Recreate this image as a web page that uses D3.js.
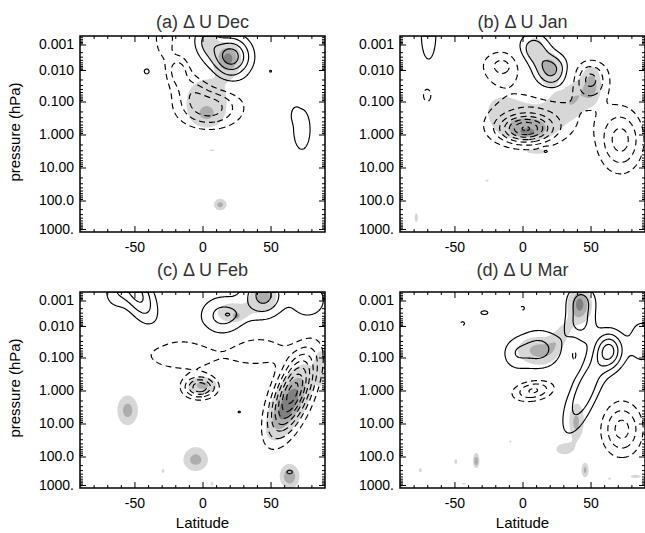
<!DOCTYPE html>
<html>
<head>
<meta charset="utf-8">
<script src="https://cdn.jsdelivr.net/npm/d3@7"></script>
<style>
body { margin: 0; background: #fff; }
text { font-family: "Liberation Sans", Arial, Helvetica, sans-serif; }
</style>
</head>
<body>
<script>
// panel titles and axis labels
var titles = ["(a) \u0394 U Dec", "(b) \u0394 U Jan", "(c) \u0394 U Feb", "(d) \u0394 U Mar"];
var pTicks = [0.001, 0.01, 0.1, 1, 10, 100, 1000];
var pLabels = ["0.001", "0.010", "0.100", "1.000", "10.00", "100.0", "1000."];
var latTicks = [-50, 0, 50];
var latMinor = [-80, -70, -60, -40, -30, -20, -10, 10, 20, 30, 40, 60, 70, 80];
var levels = [1, 2, 3, 4, 5, 6, 7, 8, 9];
var shadeLevels = [1, 2, 3, 6];
var shadeColors = ["#d7d7d7", "#adadad", "#808080", "#111"];

// wind anomaly features:
// [latitude, pressure hPa, amplitude, width in deg, width in decades, tilt deg/decade]
var decU = [
  [21, 0.003, 4.6, 10, 0.55],
  [3, 0.0007, 2.0, 7, 0.5],
  [5, 0.15, -3.6, 16, 0.42],
  [-18, 0.01, -2.5, 6, 0.4],
  [-8, 0.04, -1.5, 8, 0.35],
  [-28, 0.0005, -2.0, 5, 0.6],
  [-41, 0.011, 1.4, 2.2, 0.1],
  [50, 0.011, 1.2, 1, 0.06],
  [73, 0.7, 1.45, 7, 0.7],
  [68, 0.25, 0.9, 2, 0.15]
];
var janU = [
  [-69, 0.0004, 1.6, 5.5, 1.0],
  [8, 0.0015, 2.6, 8, 0.45],
  [21, 0.01, 3.4, 9, 0.45],
  [2, 0.7, -5.5, 13, 0.28],
  [8, 0.3, -2.0, 26, 0.6],
  [-15, 0.007, -2.3, 10.5, 0.43],
  [50, 0.02, -3.2, 9, 0.45],
  [72, 1.5, -3.4, 11, 0.65],
  [-70, 0.06, -1.4, 4, 0.3],
  [17, 3.2, 1.8, 2.5, 0.07]
];
var febU = [
  [-48, 0.0005, 3.3, 8, 0.8, -7],
  [-64, 0.0005, 1.4, 7, 0.5],
  [15, 0.004, 2.4, 12, 0.55],
  [45, 0.0006, 3.4, 10, 0.6],
  [78, 0.001, 1.8, 10, 0.55],
  [19, 0.0035, 0.8, 3, 0.1],
  [27, 4.5, 1.3, 1.3, 0.04],
  [64, 350, 1.4, 2.5, 0.08],
  [-2, 0.8, -4.8, 8, 0.22],
  [-15, 0.08, -1.8, 22, 0.38],
  [40, 0.06, -1.8, 16, 0.35],
  [66, 1.2, -7.5, 9, 0.85, 8]
];
var marU = [
  [43, 0.0012, 2.4, 8, 0.5],
  [42, 0.01, 1.8, 8, 0.4],
  [12, 0.055, 2.4, 12, 0.45],
  [-6, 0.08, 1.2, 7, 0.35],
  [64, 0.063, 3.8, 7, 0.4],
  [88, 0.03, 1.6, 8, 0.6],
  [46, 1, 2.8, 8, 0.9, 9],
  [-28, 0.003, 1.3, 3.5, 0.1],
  [38, 0.08, -1.6, 3, 0.3],
  [8, 1.0, -3.2, 10, 0.22, 12],
  [73, 15, -3.4, 10, 0.55],
  [0, 0.002, -1.3, 2, 0.1],
  [-44, 0.008, -1.3, 2, 0.1]
];

// significance shading features, same layout
var decSig = [
  [19, 0.0035, 3.3, 6, 0.4],
  [5, 0.0008, 1.6, 5, 0.45],
  [3, 0.1, 1.6, 15, 0.7],
  [3, 0.25, 1.0, 6, 0.2],
  [13, 140, 2.4, 3.5, 0.15],
  [7, 3, 1.2, 2.5, 0.03],
  [-43, 20, 1.1, 1, 0.03],
  [-90, 1400, 8, 1.5, 0.06]
];
var janSig = [
  [-15, 0.2, 1.5, 11, 0.45],
  [8, 0.4, 1.5, 12, 0.45],
  [30, 0.15, 1.5, 9, 0.4],
  [4, 0.7, 1.2, 14, 0.2],
  [2, 0.9, 1.0, 8, 0.1],
  [40, 0.06, 1.3, 6, 0.4],
  [20, 0.008, 2.6, 6, 0.4],
  [9, 0.0015, 1.8, 5, 0.4],
  [51, 0.03, 2.4, 5, 0.45],
  [11, 3.3, 1.5, 7, 0.06],
  [-26, 25, 1.25, 2, 0.05],
  [-78, 400, 1.4, 1.5, 0.2],
  [90, 400, 1.4, 2, 0.2],
  [-3, 40, 1.1, 2.5, 0.02],
  [-90, 1400, 8, 1.5, 0.06]
];
var febSig = [
  [22, 0.003, 1.5, 12, 0.4],
  [45, 0.0007, 2.4, 7, 0.4],
  [25, 0.004, 2.5, 1.5, 0.08],
  [0, 0.7, 2.3, 8, 0.2],
  [62, 3, 2.6, 7, 0.6, 10],
  [67, 1.5, 1.3, 11, 0.9, 8],
  [87, 0.2, 1.5, 3, 0.4],
  [-55, 4, 2.4, 5.7, 0.34],
  [-5, 130, 2.4, 6.8, 0.3],
  [-29, 320, 1.3, 1.5, 0.1],
  [7, 900, 1.3, 1.5, 0.1],
  [64, 500, 2.8, 5, 0.3],
  [-90, 1400, 8, 1.5, 0.06]
];
var marSig = [
  [42, 0.0015, 2.6, 6.5, 0.5],
  [42, 0.0013, 0.9, 3, 0.3],
  [28, 0.02, 1.4, 5, 0.4, 12],
  [10, 0.06, 1.6, 13, 0.4],
  [13, 0.06, 0.9, 7, 0.2],
  [40, 8, 1.6, 5, 0.5],
  [39, 10, 0.8, 2.5, 0.25],
  [30, 60, 1.3, 7, 0.2],
  [-34, 140, 2.3, 1.8, 0.2],
  [-34, 150, 0.9, 1, 0.1],
  [-49, 150, 1.5, 1.2, 0.1],
  [46, 300, 2.3, 2, 0.2],
  [64, 600, 1.4, 1.5, 0.05],
  [83, 500, 1.3, 5, 0.08],
  [-9, 35, 1.3, 1.2, 0.05],
  [-75, 300, 1.3, 1.5, 0.1],
  [-43, 900, 1.2, 3, 0.05],
  [-90, 1400, 8, 1.5, 0.06]
];

var panels = [
  { x: 80, y: 36, u: decU, sig: decSig, title: titles[0], left: true, bottom: false },
  { x: 400, y: 36, u: janU, sig: janSig, title: titles[1], left: false, bottom: false },
  { x: 80, y: 292, u: febU, sig: febSig, title: titles[2], left: true, bottom: true },
  { x: 400, y: 292, u: marU, sig: marSig, title: titles[3], left: false, bottom: true }
];

var W = 245, H = 196, NX = 180, NY = 196;

var svg = d3.select("body").append("svg").attr("width", 645).attr("height", 533);

// log pressure -> pixel offset in the panel (the axis is not evenly spaced)
var yRel = d3.scaleLinear()
  .domain([-3.333, -3, -2, -1, 0, 1, 2, 3, 3.1])
  .range([0, 8.5, 34, 65.5, 98.5, 131.5, 164.5, 193, 196]);

function grid(feats) {
  var vals = new Float64Array(NX * NY);
  for (var j = 0; j < NY; j++) {
    var lp = yRel.invert((j + 0.5) * H / NY);
    for (var i = 0; i < NX; i++) {
      var lat = -90 + (i + 0.5) * 180 / NX, s = 0;
      feats.forEach(function(f) {
        var lp0 = Math.log10(f[1]), tilt = f[5] || 0;
        var dl = (lat - (f[0] + tilt * (lp0 - lp))) / f[3];
        var dp = (lp - lp0) / f[4];
        s += f[2] * Math.exp(-0.5 * (dl * dl + dp * dp));
      });
      vals[j * NX + i] = s;
    }
  }
  return vals;
}

var minorP = [];
for (var e = -4; e <= 3; e++) {
  for (var m = 2; m <= 9; m++) {
    var lv = e + Math.log10(m);
    if (lv > -3.333 && lv < 3.1) minorP.push(lv);
  }
}

panels.forEach(function(p, k) {
  var g = svg.append("g").attr("transform", "translate(" + p.x + "," + p.y + ")");
  var xScale = d3.scaleLinear().domain([-90, 90]).range([0, W]);
  var yScale = yRel;

  var clipId = "clip" + k;
  g.append("clipPath").attr("id", clipId).append("rect").attr("width", W).attr("height", H);
  var plot = g.append("g").attr("clip-path", "url(#" + clipId + ")");

  var path = d3.geoPath(d3.geoTransform({
    point: function(x, y) { this.stream.point(x * W / NX, y * H / NY); }
  }));

  // shading
  var sv = grid(p.sig);
  var shades = d3.contours().size([NX, NY]).thresholds(shadeLevels)(sv);
  plot.selectAll("path.shade").data(shades).enter().append("path")
    .attr("class", "shade")
    .attr("d", path)
    .attr("fill", function(d, i) { return shadeColors[i]; })
    .attr("stroke", "none");

  // contours: solid positive, dashed negative
  var uv = grid(p.u);
  var neg = uv.map(function(v) { return -v; });
  var posC = d3.contours().size([NX, NY]).thresholds(levels)(uv);
  var negC = d3.contours().size([NX, NY]).thresholds(levels)(neg);
  plot.selectAll("path.pos").data(posC).enter().append("path")
    .attr("class", "pos")
    .attr("d", path)
    .attr("fill", "none").attr("stroke", "#000").attr("stroke-width", 1.15);
  plot.selectAll("path.neg").data(negC).enter().append("path")
    .attr("class", "neg")
    .attr("d", path)
    .attr("fill", "none").attr("stroke", "#000").attr("stroke-width", 1.15)
    .attr("stroke-dasharray", "6,4");

  // axes: ticks point inward on all four sides
  var pLog = pTicks.map(function(v) { return Math.log10(v); });
  g.append("g")
    .call(d3.axisLeft(yScale).tickValues(pLog).tickSize(-6).tickSizeOuter(0).tickPadding(6)
      .tickFormat(function(d, i) { return pLabels[i]; }));
  g.append("g").call(d3.axisLeft(yScale).tickValues(minorP).tickSize(-3).tickSizeOuter(0).tickFormat(""));
  g.append("g").attr("transform", "translate(" + W + ",0)")
    .call(d3.axisRight(yScale).tickValues(pLog).tickSize(-6).tickSizeOuter(0).tickFormat(""));
  g.append("g").attr("transform", "translate(" + W + ",0)")
    .call(d3.axisRight(yScale).tickValues(minorP).tickSize(-3).tickSizeOuter(0).tickFormat(""));
  var bottom = g.append("g").attr("transform", "translate(0," + H + ")")
    .call(d3.axisBottom(xScale).tickValues(latTicks).tickSize(-6).tickSizeOuter(0).tickPadding(10)
      .tickFormat(d3.format("d")));
  g.append("g").attr("transform", "translate(0," + H + ")")
    .call(d3.axisBottom(xScale).tickValues(latMinor).tickSize(-3).tickSizeOuter(0).tickFormat(""));
  g.append("g")
    .call(d3.axisTop(xScale).tickValues(latTicks).tickSize(-6).tickSizeOuter(0).tickFormat(""));
  g.append("g")
    .call(d3.axisTop(xScale).tickValues(latMinor).tickSize(-3).tickSizeOuter(0).tickFormat(""));
  g.selectAll(".domain").remove();
  g.selectAll(".tick line").attr("stroke", "#000").attr("stroke-width", 1);
  g.selectAll(".tick text").attr("font-size", 14).attr("fill", "#000")
    .style("font-family", "'Liberation Sans', Arial, sans-serif");
  bottom.selectAll(".tick text").text(function(d) { return d; });

  g.append("rect").attr("width", W).attr("height", H)
    .attr("fill", "none").attr("stroke", "#000").attr("stroke-width", 1.5);

  g.append("text").attr("x", W / 2).attr("y", p.bottom ? -16 : -8)
    .attr("text-anchor", "middle").attr("font-size", 18).attr("fill", "#333")
    .text(p.title);

  if (p.left) {
    g.append("text")
      .attr("transform", "translate(" + (20 - p.x) + "," + (H / 2 - 2) + ") rotate(-90)")
      .attr("text-anchor", "middle").attr("font-size", 15).attr("fill", "#000")
      .text("pressure (hPa)");
  }
  if (p.bottom) {
    g.append("text").attr("x", W / 2).attr("y", H + 40)
      .attr("text-anchor", "middle").attr("font-size", 15).attr("fill", "#000")
      .text("Latitude");
  }
});
</script>
</body>
</html>
